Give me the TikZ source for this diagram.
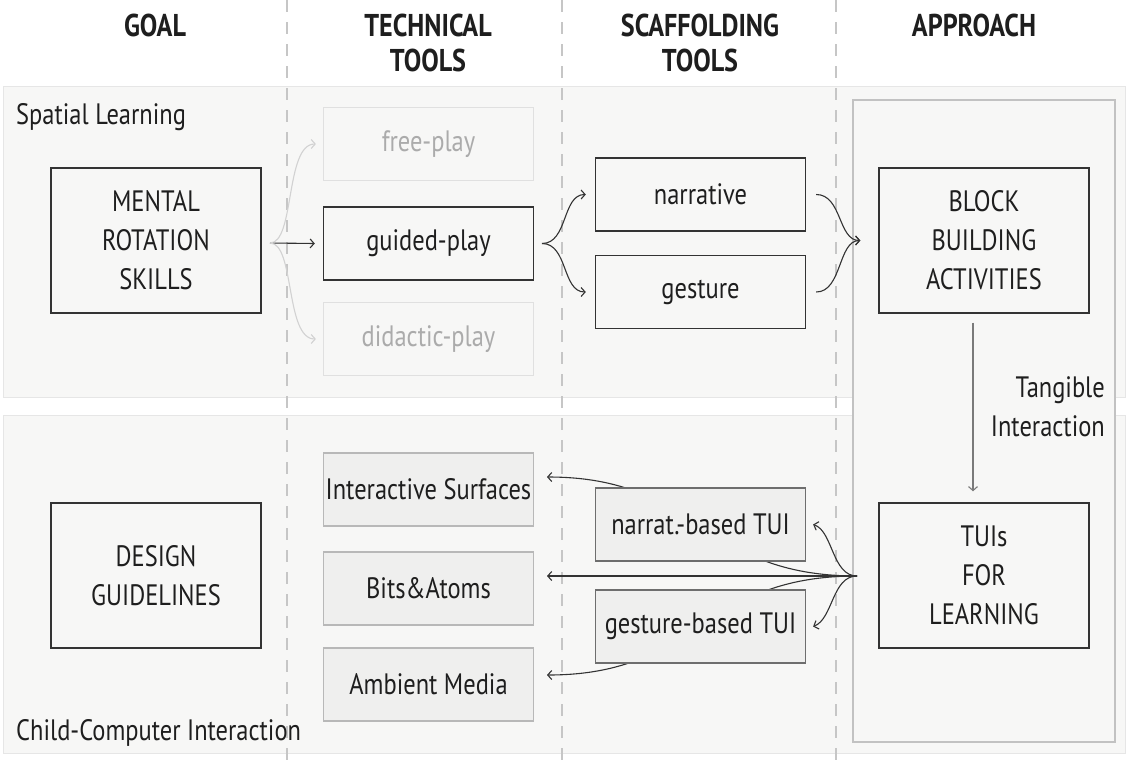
\documentclass[tikz,border=0pt]{standalone}
\usepackage{fontspec}
\setmainfont[FakeStretch=0.83]{PT Sans}
\usetikzlibrary{arrows.meta}
\definecolor{bandfill}{HTML}{F7F7F6}
\definecolor{bandline}{HTML}{E6E6E6}
\definecolor{apprline}{HTML}{C2C2C2}
\definecolor{dashcol}{HTML}{C6C6C6}
\definecolor{boxdark}{HTML}{333333}
\definecolor{textdark}{HTML}{1E1E1E}
\definecolor{faintline}{HTML}{E0E0E0}
\definecolor{fainttext}{HTML}{ABABAB}
\definecolor{faintarrow}{HTML}{D2D2D2}
\definecolor{grayfill}{HTML}{EFEFEE}
\definecolor{grayline}{HTML}{B8B8B8}
\definecolor{tuiline}{HTML}{6E6E6E}
\definecolor{vline}{HTML}{7A7A7A}
\newcommand\myBody{\fontsize{29.5}{39}\selectfont}
\newcommand\myHead{\fontsize{31.5}{35}\selectfont\bfseries}
\begin{document}
\begin{tikzpicture}[x=1pt,y=-1pt,
  box/.style={draw=boxdark, line width=1.4pt, fill=bandfill, minimum width=210pt,
    inner sep=0pt, align=center, font=\myBody, text=textdark},
  tallbox/.style={box, minimum height=145pt},
  shortbox/.style={box, minimum height=73pt},
  faintbox/.style={shortbox, draw=faintline, line width=1.2pt, text=fainttext},
  graybox/.style={shortbox, draw=grayline, line width=1.2pt, fill=grayfill},
  tuibox/.style={shortbox, draw=tuiline, line width=1.2pt, fill=grayfill},
  head/.style={font=\myHead, text=textdark, align=center, inner sep=0pt, anchor=north},
  label/.style={font=\myBody, text=textdark, inner sep=0pt},
  arr/.style={draw=boxdark, line width=1.1pt, -{Straight Barb[length=4pt,width=9pt]}},
  faintarr/.style={arr, draw=faintarrow},
  grayarr/.style={arr, draw=vline},
  band/.style={fill=bandfill, draw=bandline, line width=1pt},
  divider/.style={draw=dashcol, line width=1.2pt, dash pattern=on 12pt off 10pt}
]
\useasboundingbox (0,0) rectangle (1129,769);
\fill[white] (0,0) rectangle (1129,769);

% bands
\path[band] (3,86) rectangle (1125,397);
\path[band] (3,415) rectangle (1125,753);
\path[fill=bandfill, draw=apprline, line width=1.2pt] (853,100) rectangle (1115,742);

% column dividers
\draw[divider] (287,0) -- (287,769);
\draw[divider] (562,0) -- (562,769);
\draw[divider] (836,0) -- (836,769);

% headers
\node[head] (hgoal) at (155,14) {GOAL};
\node[head] (htech) at (428,14) {TECHNICAL\\TOOLS};
\node[head] (hscaf) at (700,14) {SCAFFOLDING\\TOOLS};
\node[head] (happr) at (974,14) {APPROACH};

% band labels
\node[label, anchor=base west] (lspatial) at (16,124) {Spatial Learning};
\node[label, anchor=base west] (lcci) at (16,740) {Child-Computer Interaction};
\node[label, anchor=south east, align=right] (ltang) at (1105,437) {Tangible\\Interaction};

% coordinates for fans and free ends
\coordinate (f1) at (270,243);
\coordinate (f2) at (542,243.5);
\coordinate (f4) at (857,576);
\coordinate (t1) at (547,477);
\coordinate (t2) at (547,576);
\coordinate (t3) at (547,675);

% bottom connectors drawn behind boxes
\draw[arr] (f4) .. controls (700,576) and (700,477) .. (t1);
\draw[arr] (f4) .. controls (700,576) and (700,675) .. (t3);

% nodes: top
\node[tallbox] (mental) at (156,240.5) {MENTAL\\ROTATION\\SKILLS};
\node[faintbox] (free) at (428.5,144) {free-play};
\node[shortbox] (guided) at (428.5,243.5) {guided-play};
\node[faintbox] (didactic) at (428.5,339) {didactic-play};
\node[shortbox] (narrative) at (700.5,194.5) {narrative};
\node[shortbox] (gesture) at (700.5,292) {gesture};
\node[tallbox] (block) at (984,240.5) {BLOCK\\BUILDING\\ACTIVITIES};

% nodes: bottom
\node[tallbox] (design) at (156,575.5) {DESIGN\\GUIDELINES};
\node[graybox] (isurf) at (428.5,489.5) {Interactive Surfaces};
\node[graybox] (bits) at (428.5,588.5) {Bits\&Atoms};
\node[graybox] (ambient) at (428.5,684.5) {Ambient Media};
\node[tuibox] (ntui) at (700.5,524.5) {narrat.-based TUI};
\node[tuibox] (gtui) at (700.5,626.5) {gesture-based TUI};
\node[tallbox] (tuis) at (984,575.5) {TUIs\\FOR\\LEARNING};

\coordinate (f3) at ([xshift=-18pt]block.west);

% top connectors
\draw[arr] (f1) -- ([xshift=-8pt]guided.west);
\draw[faintarr] (f1) .. controls (295,243) and (285,144) .. ([xshift=-7pt]free.west);
\draw[faintarr] (f1) .. controls (295,243) and (285,339) .. ([xshift=-7pt]didactic.west);
\draw[arr] (f2) .. controls (568,243.5) and (562,194.5) .. ([xshift=-9pt]narrative.west);
\draw[arr] (f2) .. controls (568,243.5) and (562,292) .. ([xshift=-9pt]gesture.west);
\draw[arr] ([xshift=10pt]narrative.east) .. controls (842,194.5) and (838,240.5) .. (f3);
\draw[arr] ([xshift=10pt]gesture.east) .. controls (842,292) and (838,240.5) .. (f3);

% vertical connector
\draw[grayarr] ([xshift=-11pt,yshift=-9pt]block.south) -- ([xshift=-11pt,yshift=11pt]tuis.north);

% bottom fan
\draw[arr] (f4) -- (t2);
\draw[arr] (f4) .. controls (832,576) and (833,531) .. ([xshift=7pt]ntui.east);
\draw[arr] (f4) .. controls (832,576) and (833,619) .. ([xshift=7pt]gtui.east);
\end{tikzpicture}
\end{document}
